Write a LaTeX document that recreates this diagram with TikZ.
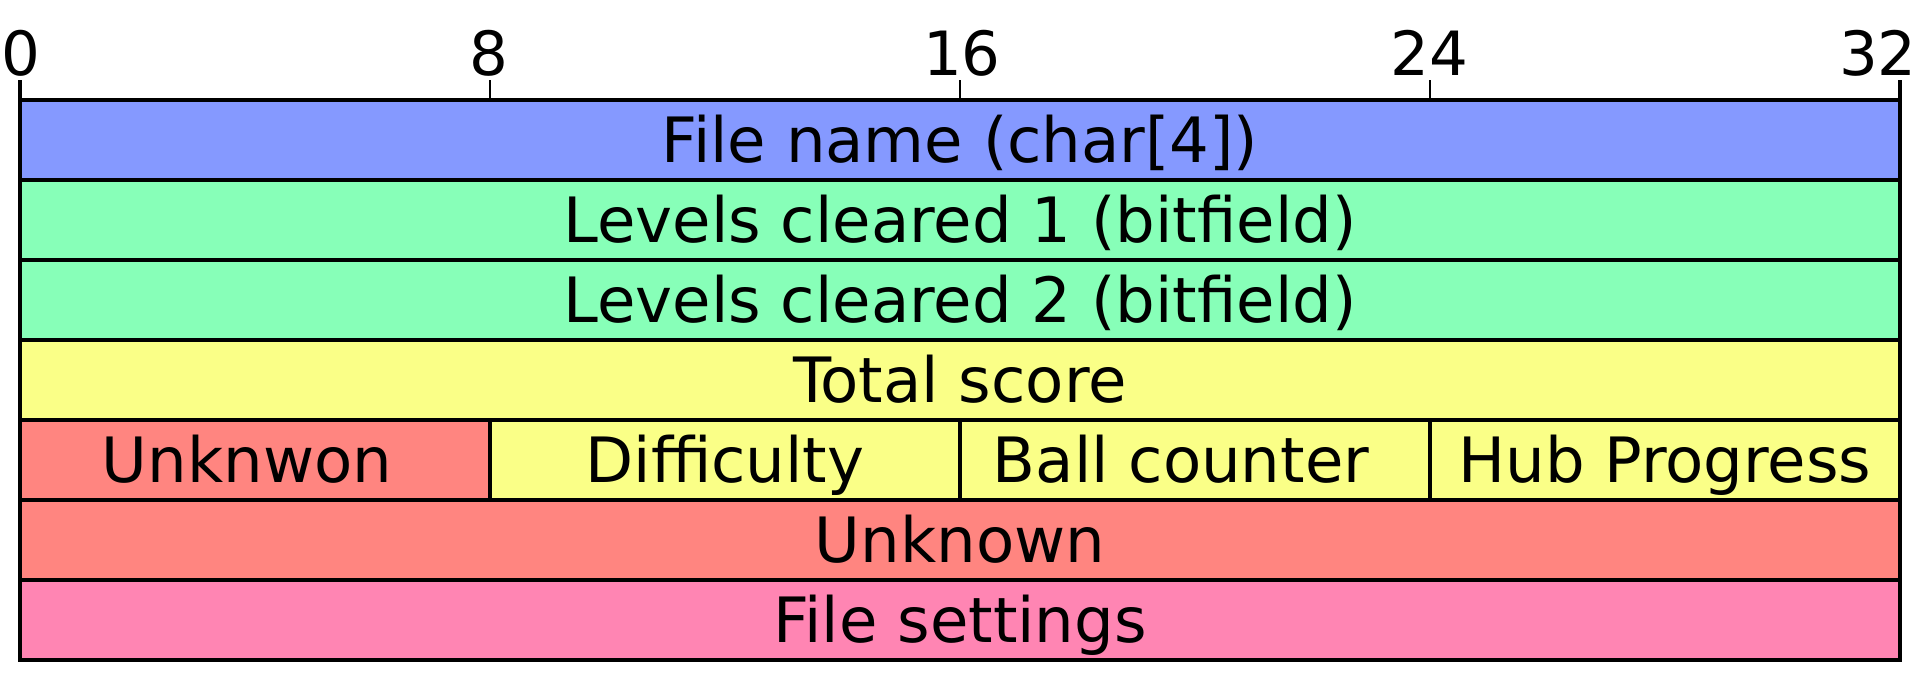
\documentclass[tikz,border=0pt]{standalone}
\usepackage{fontspec}
\setmainfont{DejaVu Sans}
\definecolor{cblue}{HTML}{8599FF}
\definecolor{cgreen}{HTML}{87FFB8}
\definecolor{cyellow}{HTML}{FAFF87}
\definecolor{csalmon}{HTML}{FF8580}
\definecolor{cpink}{HTML}{FF85B3}
\begin{document}
\begin{tikzpicture}[x=1pt,y=-1pt,
  cell/.style={draw=black, line width=4pt, minimum height=80pt, inner sep=0pt, outer sep=0pt},
  celltext/.style={font=\fontsize{62.5}{62.5}\selectfont, text height=45pt, text depth=0pt, inner sep=0pt},
  fullcell/.style={cell, minimum width=1880pt},
  quartcell/.style={cell, minimum width=470pt},
  tickthick/.style={line width=4pt},
  tickthin/.style={line width=1.5pt},
  ticklabel/.style={font=\fontsize{61}{61}\selectfont, inner sep=0pt, anchor=base}]
\useasboundingbox (0,0) rectangle (1920,680);
% ticks
\coordinate (t0a) at (20,80);   \coordinate (t0b) at (20,100);
\coordinate (t8a) at (490,80);  \coordinate (t8b) at (490,100);
\coordinate (t16a) at (960,80); \coordinate (t16b) at (960,100);
\coordinate (t24a) at (1430,80);\coordinate (t24b) at (1430,100);
\coordinate (t32a) at (1900,80);\coordinate (t32b) at (1900,100);
\draw[tickthick] (t0a) -- (t0b);
\draw[tickthin] (t8a) -- (t8b);
\draw[tickthin] (t16a) -- (t16b);
\draw[tickthin] (t24a) -- (t24b);
\draw[tickthick] (t32a) -- (t32b);
\node[ticklabel] (l0) at (21,75) {0};
\node[ticklabel] (l8) at (489,75) {8};
\node[ticklabel] (l16) at (962,75) {16};
\node[ticklabel] (l24) at (1429,75) {24};
\node[ticklabel, anchor=base east] (l32) at (1917,75) {32};
% rows
\node[fullcell, fill=cblue] (r1) at (960,140) {};
\node[fullcell, fill=cgreen] (r2) at (960,220) {};
\node[fullcell, fill=cgreen] (r3) at (960,300) {};
\node[fullcell, fill=cyellow] (r4) at (960,380) {};
\node[quartcell, fill=csalmon] (r5a) at (255,460) {};
\node[quartcell, fill=cyellow] (r5b) at (725,460) {};
\node[quartcell, fill=cyellow] (r5c) at (1195,460) {};
\node[quartcell, fill=cyellow] (r5d) at (1665,460) {};
\node[fullcell, fill=csalmon] (r6) at (960,540) {};
\node[fullcell, fill=cpink] (r7) at (960,620) {};
% texts
\node[celltext] (x1) at (r1) {File name (char[4])};
\node[celltext] (x2) at (r2) {Levels cleared 1 (bitfield)};
\node[celltext] (x3) at (r3) {Levels cleared 2 (bitfield)};
\node[celltext] (x4) at (r4) {Total score};
\node[celltext] (x5a) at ([xshift=-8pt]r5a.center) {Unknwon};
\node[celltext] (x5b) at (r5b) {Difficulty};
\node[celltext] (x5c) at ([xshift=-14pt]r5c.center) {Ball counter};
\node[celltext] (x5d) at (r5d) {Hub Progress};
\node[celltext] (x6) at (r6) {Unknown};
\node[celltext] (x7) at (r7) {File settings};
\end{tikzpicture}
\end{document}
